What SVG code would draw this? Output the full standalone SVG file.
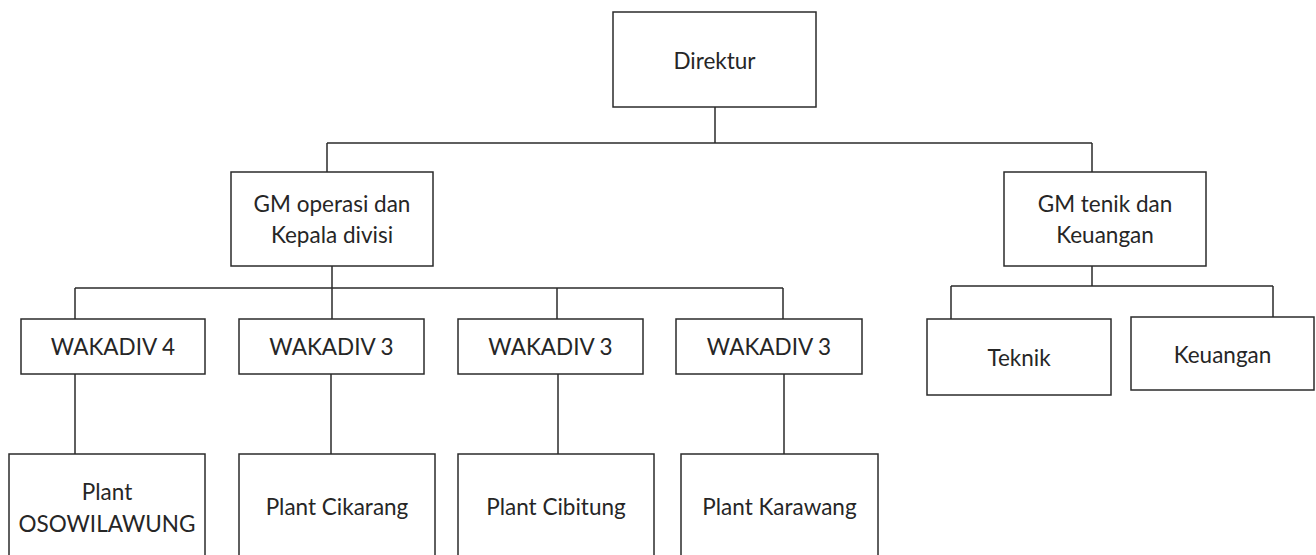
<svg xmlns="http://www.w3.org/2000/svg" width="1316" height="555" viewBox="0 0 1316 555">
<style>
.box{fill:#fff;stroke:#2b2b2b;stroke-width:1.5}
.c{fill:none;stroke:#2b2b2b;stroke-width:1.5}
text{font-family:Lato,"Open Sans",sans-serif;font-size:22.5px;fill:#262626;text-anchor:middle}
</style>
<rect width="1316" height="555" fill="#fff"/>
<g id="connectors">
<path class="c" d="M715 107V143M327 143H1092M327 143V172M1092 143V172"/>
<path class="c" d="M332 266V288M75 288H783M75 288V319M332 288V319M557 288V319M783 288V319"/>
<path class="c" d="M1092 266V286M951 286H1273M951 286V319M1273 286V317"/>
<path class="c" d="M75 374V454M331 374V454M558 374V454M784 374V454"/>
</g>
<g id="direktur"><rect class="box" x="613" y="12" width="203" height="95"/><text x="714.5" y="69">Direktur</text></g>
<g id="gm-operasi"><rect class="box" x="231" y="172" width="202" height="94"/><text x="332" y="212">GM operasi dan</text><text x="332" y="243">Kepala divisi</text></g>
<g id="gm-teknik"><rect class="box" x="1004" y="172" width="202" height="94"/><text x="1105" y="212">GM tenik dan</text><text x="1105" y="243">Keuangan</text></g>
<g id="wakadiv4"><rect class="box" x="21" y="319" width="184" height="55"/><text x="113" y="355">WAKADIV 4</text></g>
<g id="wakadiv3a"><rect class="box" x="239" y="319" width="185" height="55"/><text x="331.5" y="355">WAKADIV 3</text></g>
<g id="wakadiv3b"><rect class="box" x="458" y="319" width="185" height="55"/><text x="550.5" y="355">WAKADIV 3</text></g>
<g id="wakadiv3c"><rect class="box" x="676" y="319" width="186" height="55"/><text x="769" y="355">WAKADIV 3</text></g>
<g id="teknik"><rect class="box" x="927" y="319" width="184" height="76"/><text x="1019" y="366">Teknik</text></g>
<g id="keuangan"><rect class="box" x="1131" y="317" width="183" height="73"/><text x="1222.5" y="363">Keuangan</text></g>
<g id="plant-osowilawung"><rect class="box" x="9" y="454" width="196" height="110"/><text x="107" y="500">Plant</text><text x="107" y="532">OSOWILAWUNG</text></g>
<g id="plant-cikarang"><rect class="box" x="239" y="454" width="196" height="110"/><text x="337" y="515">Plant Cikarang</text></g>
<g id="plant-cibitung"><rect class="box" x="458" y="454" width="196" height="110"/><text x="556" y="515">Plant Cibitung</text></g>
<g id="plant-karawang"><rect class="box" x="681" y="454" width="197" height="110"/><text x="779.5" y="515">Plant Karawang</text></g>
</svg>
